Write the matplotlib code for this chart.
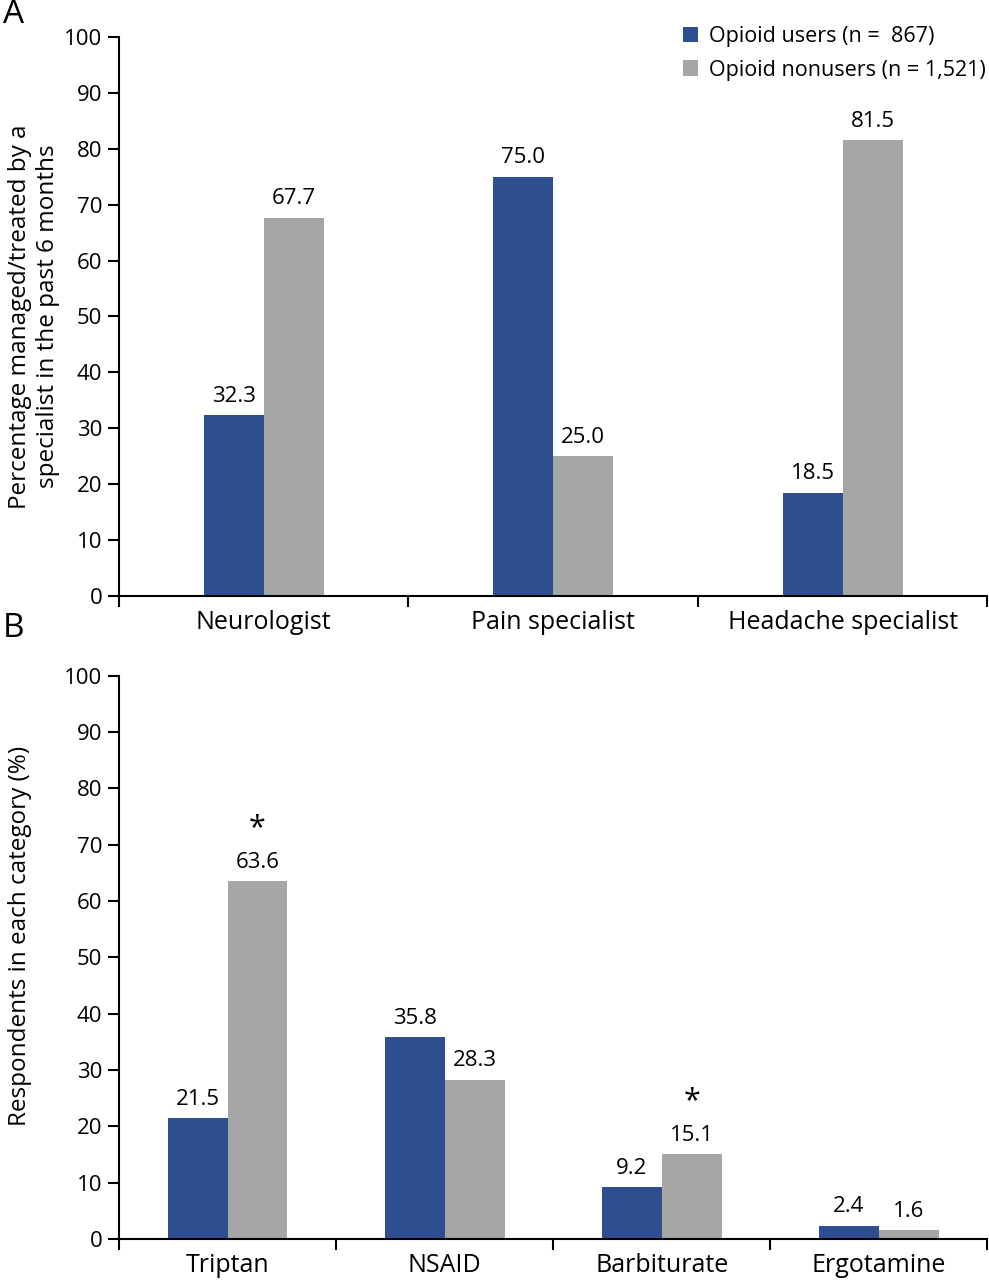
import matplotlib
matplotlib.use("Agg")
import matplotlib.pyplot as plt
import numpy as np

plt.rcParams['font.family'] = ['Open Sans', 'DejaVu Sans']

# panel A data
spec_cats = ["Neurologist", "Pain specialist", "Headache specialist"]
spec_users = [32.3, 75.0, 18.5]
spec_nonusers = [67.7, 25.0, 81.5]

# panel B data
drug_cats = ["Triptan", "NSAID", "Barbiturate", "Ergotamine"]
drug_users = [21.5, 35.8, 9.2, 2.4]
drug_nonusers = [63.6, 28.3, 15.1, 1.6]
drug_star = [True, False, True, False]  # star over nonusers bar

blue = "#2E4F8F"
grey = "#A6A6A6"

fig = plt.figure(figsize=(9.89, 12.8), dpi=100)
axA = fig.add_axes([0.1203, 0.5344, 0.878, 0.4367])
axB = fig.add_axes([0.1203, 0.032, 0.878, 0.44])


def style(ax, cats):
    n = len(cats)
    ax.set_xlim(-0.5, n - 0.5)
    ax.set_ylim(0, 100)
    ax.set_yticks(np.arange(0, 101, 10))
    ax.set_xticks(np.arange(n))
    ax.set_xticklabels(cats, fontsize=18)
    ax.set_xticks(np.arange(n + 1) - 0.5, minor=True)
    ax.tick_params(axis='x', which='major', length=0, pad=10)
    ax.tick_params(axis='x', which='minor', length=8, width=1.5, direction='out')
    ax.tick_params(axis='y', length=8, width=1.5, labelsize=16, pad=4)
    for s in ["top", "right"]:
        ax.spines[s].set_visible(False)
    for s in ["left", "bottom"]:
        ax.spines[s].set_linewidth(1.5)


def bars(ax, users, nonusers, w):
    x = np.arange(len(users))
    b1 = ax.bar(x - w / 2, users, w, color=blue, label="Opioid users (n =  867)")
    b2 = ax.bar(x + w / 2, nonusers, w, color=grey, label="Opioid nonusers (n = 1,521)")
    for b, v in zip(list(b1) + list(b2), list(users) + list(nonusers)):
        ax.annotate(f"{v:.1f}", (b.get_x() + b.get_width() / 2, v), xytext=(0, 6),
                    textcoords="offset points", ha="center", va="bottom", fontsize=16)
    return b2


# Panel A
bars(axA, spec_users, spec_nonusers, 0.207)
style(axA, spec_cats)
axA.set_ylabel("Percentage managed/treated by a\nspecialist in the past 6 months", fontsize=17.5)
axA.yaxis.set_label_coords(-0.068, 0.5)
axA.legend(loc="upper right", bbox_to_anchor=(1.02, 1.055), frameon=False, fontsize=15.5,
           handlelength=0.7, handleheight=0.7, handletextpad=0.5, labelspacing=0.6)
fig.text(0.003, 0.976, "A", fontsize=24, ha="left", va="bottom")

# Panel B
b2 = bars(axB, drug_users, drug_nonusers, 0.276)
style(axB, drug_cats)
axB.set_ylabel("Respondents in each category (%)", fontsize=17.5)
axB.yaxis.set_label_coords(-0.100, 0.538)
for i, b in enumerate(b2):
    if drug_star[i]:
        v = drug_nonusers[i]
        axB.annotate("*", (b.get_x() + b.get_width() / 2, v), xytext=(0, 27),
                     textcoords="offset points", ha="center", va="bottom", fontsize=22)
fig.text(0.003, 0.496, "B", fontsize=24, ha="left", va="bottom")

fig.savefig("out.png", dpi=100)
